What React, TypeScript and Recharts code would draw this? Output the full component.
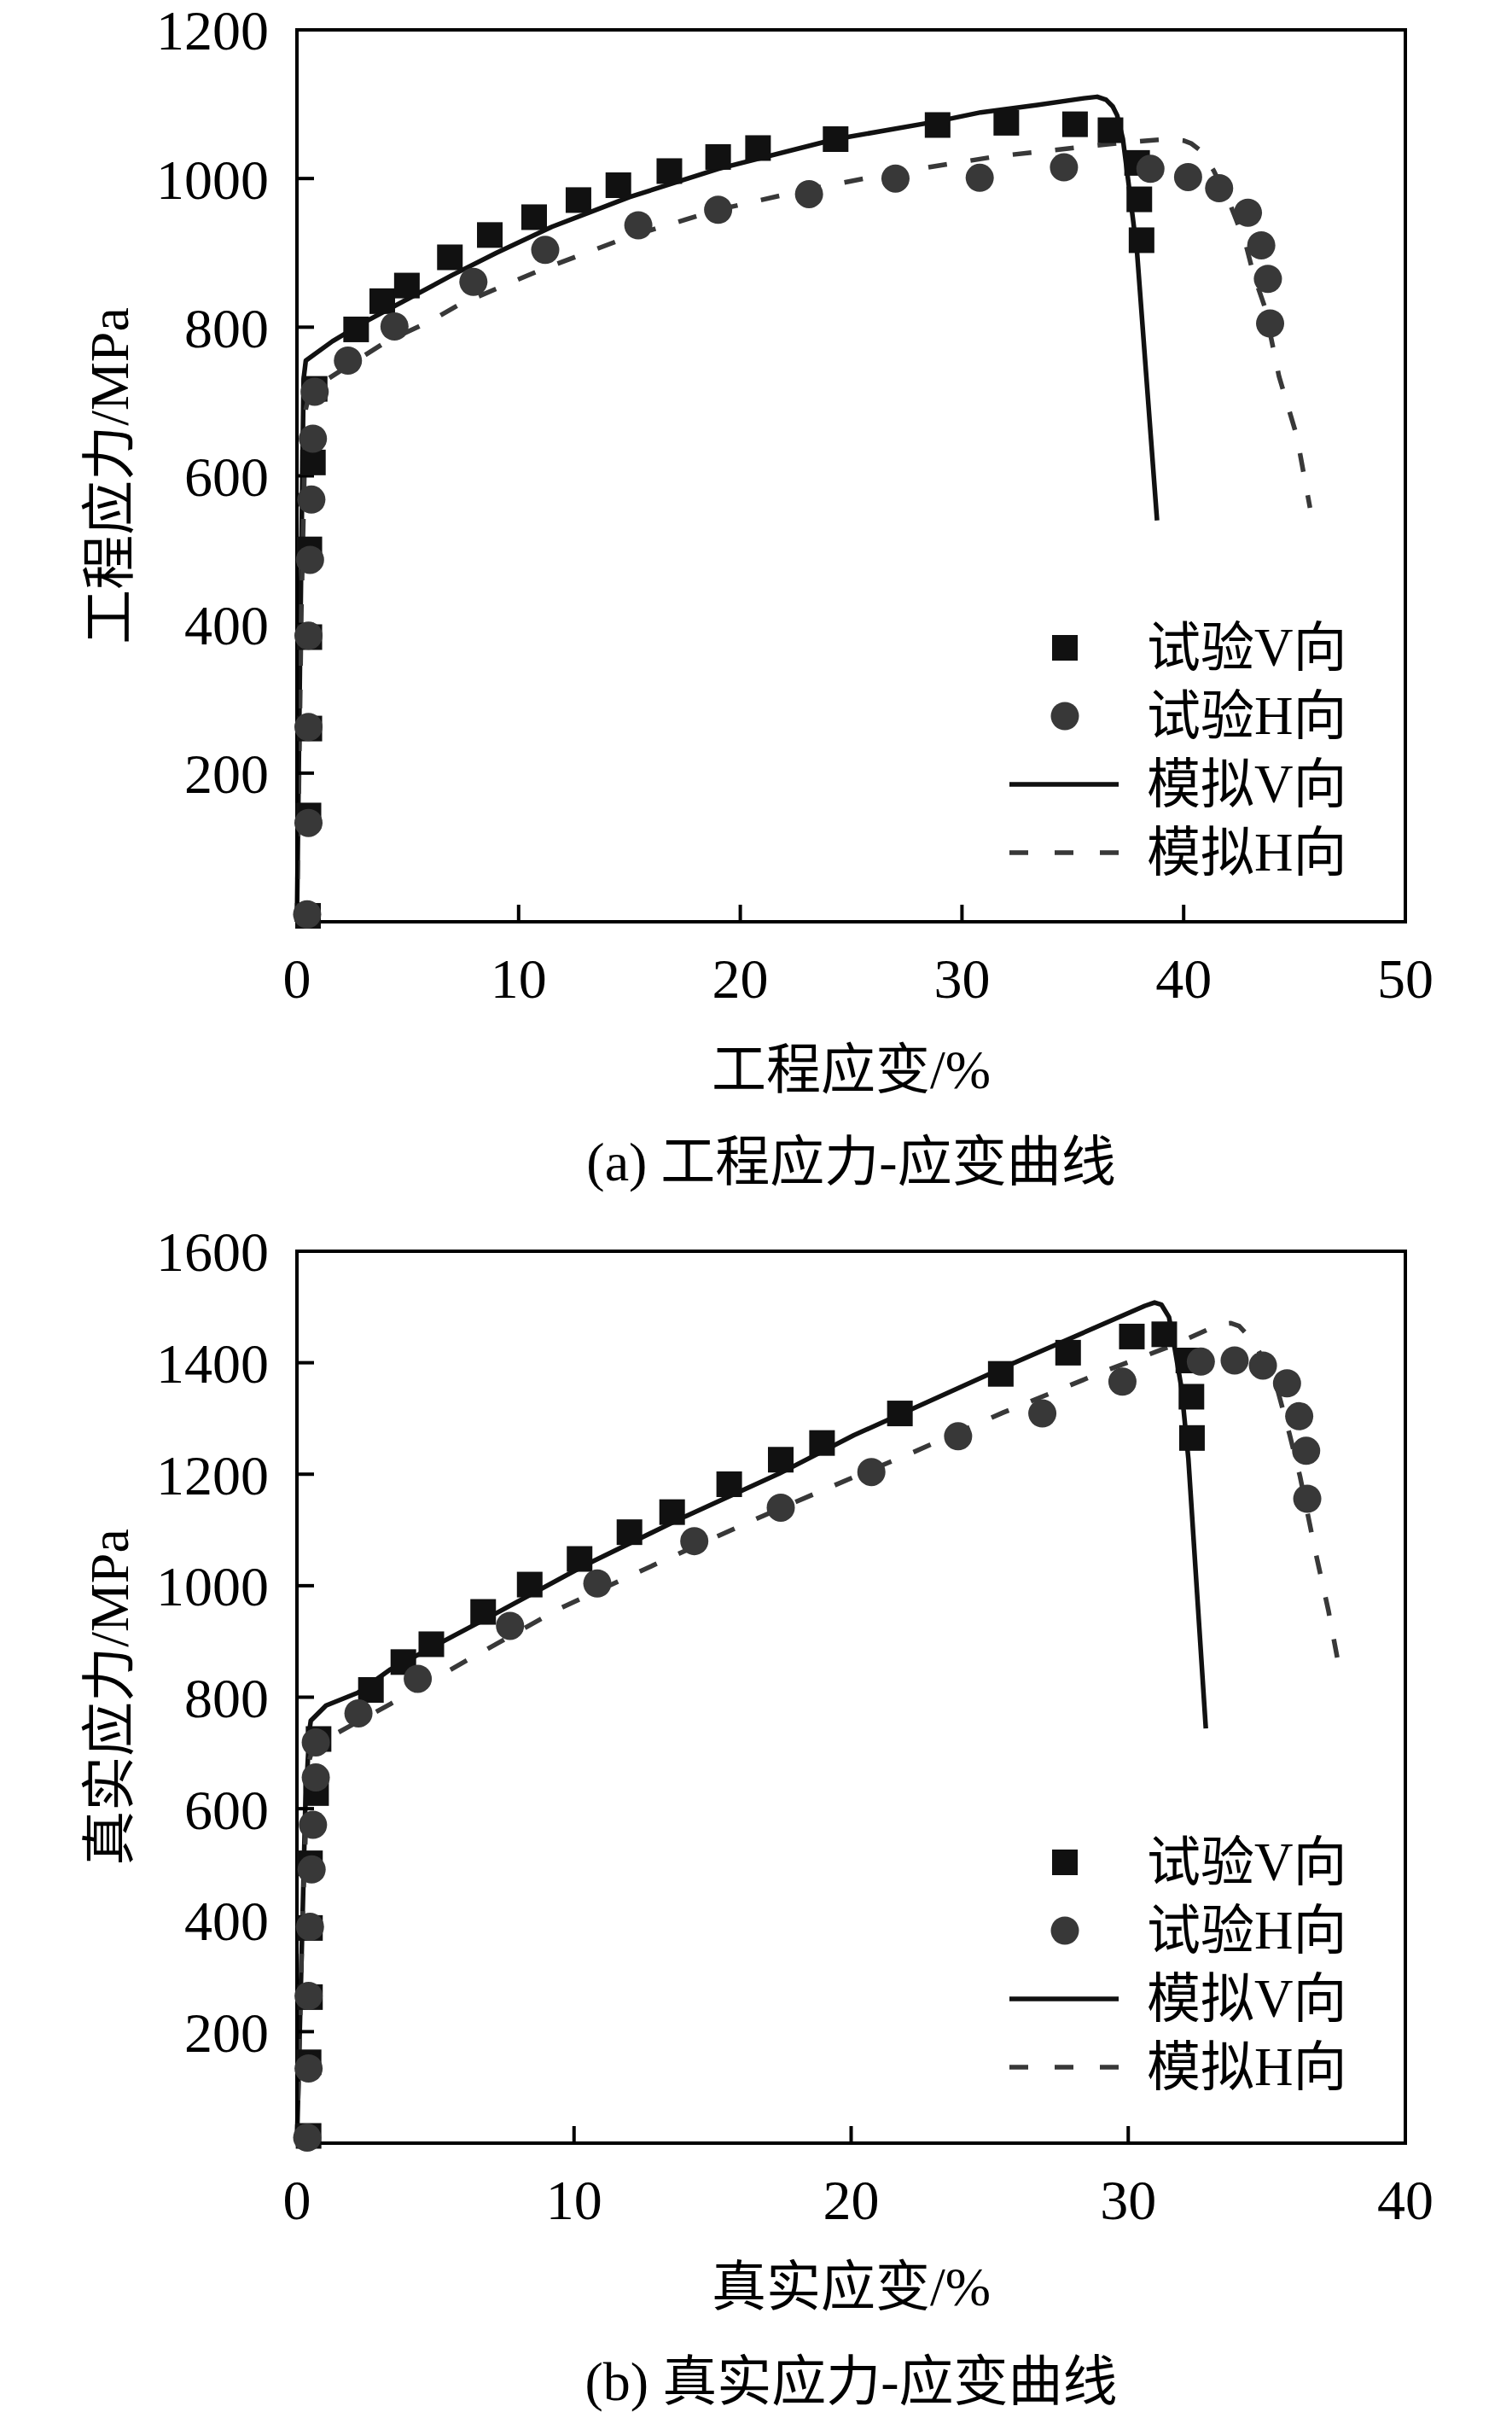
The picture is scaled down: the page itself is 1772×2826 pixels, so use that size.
import {
  ComposedChart,
  Line,
  Scatter,
  XAxis,
  YAxis,
  ReferenceArea,
  Label,
  Legend
} from 'recharts';

const FONT = "'Liberation Serif', 'Times New Roman', 'Noto Sans CJK SC', serif";

// (a) engineering stress-strain
const engTestVX = [0.5, 0.52, 0.56, 0.56, 0.56, 0.72, 0.8, 2.67, 3.85, 4.96, 6.9, 8.7, 10.7, 12.7, 14.5, 16.8, 19.0, 20.8, 24.3, 28.9, 32.0, 35.1, 36.7, 37.9, 38.0, 38.1];
const engTestVY = [8, 143, 260, 383, 501, 618, 717, 797, 835, 856, 894, 924, 948, 971, 991, 1010, 1029, 1041, 1053, 1072, 1075, 1073, 1065, 1021, 972, 917];
const engTestHX = [0.46, 0.52, 0.52, 0.52, 0.59, 0.65, 0.72, 0.8, 2.3, 4.4, 7.96, 11.2, 15.4, 19.0, 23.1, 27.0, 30.8, 34.6, 38.5, 40.2, 41.6, 42.9, 43.5, 43.8, 43.9];
const engTestHY = [10, 133, 262, 385, 487, 568, 650, 713, 755, 801, 861, 904, 937, 958, 979, 1000, 1001, 1015, 1013, 1002, 987, 954, 910, 865, 805];
const engSimVX = [0, 0.15, 0.3, 0.4, 1.6, 3, 5, 7, 9, 11.5, 15, 19, 24.3, 28.9, 30.85, 33.4, 35.5, 36.1, 36.5, 36.8, 37.0, 37.26, 37.5, 37.9, 38.8];
const engSimVY = [0, 380, 730, 755, 781, 806, 838, 870, 900, 935, 975, 1013, 1053, 1077, 1089, 1099, 1108, 1110, 1106, 1097, 1085, 1053, 997, 900, 540];
const engSimHX = [0, 0.2, 0.4, 0.6, 2, 4, 6, 7.3, 9.8, 11, 15, 19, 23, 27, 31.6, 33.8, 35.6, 37.5, 39.2, 40.0, 40.35, 40.7, 41.35, 42.1, 42.8, 43.15, 43.65, 44.3, 44.7, 45.1, 45.7];
const engSimHY = [0, 420, 690, 715, 742, 780, 808, 830, 862, 877, 922, 958, 985, 1008, 1030, 1037, 1043, 1049, 1053, 1051, 1047, 1039, 1011, 965, 912, 871, 828, 734, 694, 654, 557];

// (b) true stress-strain
const trueTestVX = [0.42, 0.42, 0.47, 0.47, 0.47, 0.69, 0.78, 2.67, 3.84, 4.85, 6.72, 8.4, 10.2, 12.0, 13.54, 15.6, 17.46, 18.95, 21.76, 25.4, 27.83, 30.13, 31.3, 32.17, 32.28, 32.3];
const trueTestVY = [13, 145, 262, 386, 502, 628, 725, 813, 863, 895, 953, 1002, 1048, 1096, 1132, 1182, 1226, 1256, 1309, 1380, 1418, 1447, 1451, 1404, 1339, 1265];
const trueTestHX = [0.37, 0.42, 0.42, 0.47, 0.53, 0.58, 0.68, 0.68, 2.22, 4.36, 7.69, 10.84, 14.34, 17.46, 20.73, 23.86, 26.9, 29.79, 32.62, 33.84, 34.86, 35.73, 36.17, 36.42, 36.46];
const trueTestHY = [10, 134, 264, 388, 491, 571, 656, 719, 771, 833, 928, 1004, 1080, 1140, 1204, 1268, 1309, 1366, 1402, 1404, 1395, 1363, 1304, 1242, 1156];
const trueSimVX = [0, 0.15, 0.3, 0.45, 0.5, 1.05, 2.2, 3.38, 7.02, 10.4, 14.0, 17.4, 20.1, 25.85, 30.6, 30.95, 31.2, 31.47, 31.66, 31.92, 32.17, 32.8];
const trueSimVY = [0, 300, 600, 740, 758, 785, 808, 850, 946, 1037, 1124, 1201, 1270, 1399, 1502, 1508, 1504, 1482, 1431, 1355, 1228, 744];
const trueSimHX = [0, 0.2, 0.4, 0.6, 1.5, 3.38, 6.24, 9.48, 13.4, 16.9, 20.1, 22.27, 25.46, 29.05, 31.6, 33.3, 33.7, 34.0, 34.3, 34.67, 35.37, 35.82, 36.2, 36.72, 37.23, 37.67];
const trueSimHY = [0, 400, 680, 712, 737, 788, 869, 959, 1049, 1127, 1195, 1240, 1310, 1383, 1431, 1469, 1471, 1466, 1450, 1425, 1355, 1272, 1196, 1069, 954, 837];

const engXTicks = [0, 10, 20, 30, 40, 50];
const engYTicks = [200, 400, 600, 800, 1000, 1200];
const trueXTicks = [0, 10, 20, 30, 40];
const trueYTicks = [200, 400, 600, 800, 1000, 1200, 1400, 1600];

const seriesNames = ['试验V向', '试验H向', '模拟V向', '模拟H向'];

const zip = (xs: number[], ys: number[]) => xs.map((x, i) => ({ x, y: ys[i] }));

const SquareDot = (p: any) => (
  <rect x={p.cx - 15} y={p.cy - 15} width={30} height={30} fill="#111111" />
);
const RoundDot = (p: any) => <circle cx={p.cx} cy={p.cy} r={16.5} fill="#383838" />;

const renderLegend = (props: any) => {
  const items = [...(props.payload || [])].sort(
    (a: any, b: any) => seriesNames.indexOf(a.value) - seriesNames.indexOf(b.value)
  );
  return (
    <div>
      {items.map((it: any) => {
        const idx = seriesNames.indexOf(it.value);
        return (
          <div key={it.value} style={{ display: 'flex', alignItems: 'center', height: 80 }}>
            <svg width={161} height={80}>
              {idx === 0 && <rect x={50} y={25} width={30} height={30} fill="#111111" />}
              {idx === 1 && <circle cx={65} cy={40} r={16.5} fill="#383838" />}
              {idx === 2 && <line x1={0} x2={128} y1={40} y2={40} stroke="#111111" strokeWidth={5.5} />}
              {idx === 3 && (
                <line x1={0} x2={128} y1={40} y2={40} stroke="#383838" strokeWidth={5.5} strokeDasharray="22 31" />
              )}
            </svg>
            <span style={{ fontFamily: FONT, fontSize: 63, color: '#000', lineHeight: '80px', whiteSpace: 'nowrap' }}>
              {it.value}
            </span>
          </div>
        );
      })}
    </div>
  );
};

interface PanelProps {
  testV: { x: number; y: number }[];
  testH: { x: number; y: number }[];
  simV: { x: number; y: number }[];
  simH: { x: number; y: number }[];
  xMax: number;
  yMax: number;
  xTicks: number[];
  yTicks: number[];
  xTitle: string;
  yTitle: string;
  caption: string;
  top: number;
  titleOffset: number;
  captionOffset: number;
  legendTop: number;
}

const Panel = (p: PanelProps) => {
  const plotH = 1045;
  return (
    <ComposedChart
      width={1772}
      height={1413}
      margin={{ top: p.top, right: 125, left: 0, bottom: 1413 - p.top - plotH - 300 }}
    >
      <ReferenceArea x1={0} x2={p.xMax} y1={0} y2={p.yMax} fill="none" stroke="#000" strokeWidth={4} />
      <XAxis
        dataKey="x"
        type="number"
        domain={[0, p.xMax]}
        ticks={p.xTicks}
        interval={0}
        height={300}
        tickSize={-20}
        tickMargin={62}
        axisLine={{ stroke: '#000', strokeWidth: 4 }}
        tickLine={{ stroke: '#000', strokeWidth: 4 }}
        tick={{ fill: '#000', fontSize: 66, fontFamily: FONT }}
      >
        <Label value={p.xTitle} position="insideTop" offset={p.titleOffset} style={{ fontSize: 64, fontFamily: FONT, fill: '#000' }} />
        <Label value={p.caption} position="insideTop" offset={p.captionOffset} style={{ fontSize: 64, fontFamily: FONT, fill: '#000' }} />
      </XAxis>
      <YAxis
        type="number"
        domain={[0, p.yMax]}
        ticks={p.yTicks}
        interval={0}
        width={348}
        tickSize={-20}
        tickMargin={53}
        axisLine={{ stroke: '#000', strokeWidth: 4 }}
        tickLine={{ stroke: '#000', strokeWidth: 4 }}
        tick={{ fill: '#000', fontSize: 66, fontFamily: FONT }}
        label={{
          value: p.yTitle,
          angle: -90,
          position: 'insideLeft',
          offset: 127,
          style: { textAnchor: 'middle', fontSize: 64, fontFamily: FONT, fill: '#000' }
        }}
      />
      <Legend
        layout="vertical"
        align="center"
        verticalAlign="middle"
        content={renderLegend}
        wrapperStyle={{ left: 1183, top: p.legendTop, width: 'auto' }}
      />
      <Line
        data={p.simV}
        dataKey="y"
        name={seriesNames[2]}
        type="linear"
        stroke="#111111"
        strokeWidth={5.5}
        strokeLinejoin="round"
        dot={false}
        activeDot={false}
        isAnimationActive={false}
      />
      <Line
        data={p.simH}
        dataKey="y"
        name={seriesNames[3]}
        type="linear"
        stroke="#383838"
        strokeWidth={5.5}
        strokeDasharray="22 28"
        dot={false}
        activeDot={false}
        isAnimationActive={false}
      />
      <Scatter data={p.testV} dataKey="y" name={seriesNames[0]} fill="#111111" shape={SquareDot} isAnimationActive={false} />
      <Scatter data={p.testH} dataKey="y" name={seriesNames[1]} fill="#383838" shape={RoundDot} isAnimationActive={false} />
    </ComposedChart>
  );
};

export default function App() {
  return (
    <div style={{ position: 'absolute', left: 0, top: 0, width: 1772, height: 2826, background: '#fff' }}>
      <Panel
        testV={zip(engTestVX, engTestVY)}
        testH={zip(engTestHX, engTestHY)}
        simV={zip(engSimVX, engSimVY)}
        simH={zip(engSimHX, engSimHY)}
        xMax={50}
        yMax={1200}
        xTicks={engXTicks}
        yTicks={engYTicks}
        xTitle="工程应变/%"
        yTitle="工程应力/MPa"
        caption="(a) 工程应力-应变曲线"
        top={35}
        titleOffset={150}
        captionOffset={258}
        legendTop={719}
      />
      <Panel
        testV={zip(trueTestVX, trueTestVY)}
        testH={zip(trueTestHX, trueTestHY)}
        simV={zip(trueSimVX, trueSimVY)}
        simH={zip(trueSimHX, trueSimHY)}
        xMax={40}
        yMax={1600}
        xTicks={trueXTicks}
        yTicks={trueYTicks}
        xTitle="真实应变/%"
        yTitle="真实应力/MPa"
        caption="(b) 真实应力-应变曲线"
        top={53}
        titleOffset={145}
        captionOffset={256}
        legendTop={729}
      />
    </div>
  );
}
